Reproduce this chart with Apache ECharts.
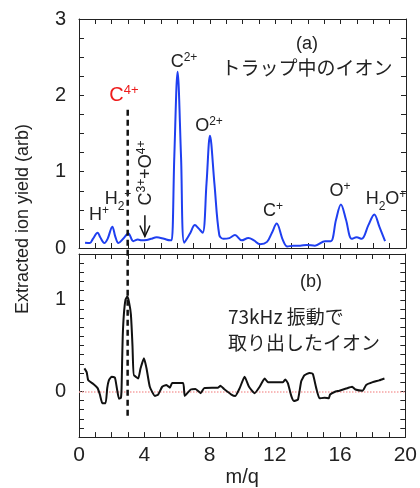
<!DOCTYPE html>
<html><head><meta charset="utf-8">
<script src="https://cdn.jsdelivr.net/npm/echarts@6/dist/echarts.min.js"></script>
<style>html,body{margin:0;padding:0;background:#fff}#c{width:420px;height:488px}</style>
</head><body><div id="c"></div>
<script>
// ---- data (m/q, yield) ----
const trapX = [0.37,0.67,0.85,1.14,1.3,1.55,1.75,2.04,2.22,2.41,2.7,3.02,3.32,3.6,3.83,4.14,4.4,4.75,5.2,5.57,5.67,5.83,6.03,6.24,6.44,6.79,7.09,7.3,7.56,7.8,8.01,8.28,8.58,8.83,9.2,9.54,9.95,10.36,10.7,11.07,11.5,11.8,12.09,12.46,12.74,13.1,13.52,13.93,14.43,15.05,15.4,15.72,16.02,16.33,16.68,16.98,17.29,17.7,18.06,18.37,18.72];
const trapY = [0.07,0.065,0.12,0.2,0.14,0.065,0.12,0.28,0.15,0.065,0.12,0.19,0.09,0.11,0.1,0.105,0.12,0.14,0.12,0.1,0.1,1.2,2.31,1.2,0.07,0.19,0.3,0.26,0.2,0.85,1.47,0.85,0.17,0.12,0.13,0.17,0.1,0.13,0.1,0.05,0.08,0.2,0.32,0.11,0.02,0.03,0.03,0.04,0.03,0.09,0.09,0.37,0.57,0.37,0.12,0.14,0.12,0.3,0.44,0.28,0.09];
const extX = [0.33,0.47,0.57,0.88,1.14,1.28,1.43,1.63,1.73,1.83,2.0,2.2,2.32,2.45,2.57,2.61,2.64,2.68,2.75,2.85,2.96,3.06,3.18,3.28,3.34,3.38,3.63,3.77,3.98,4.14,4.34,4.65,4.85,5.1,5.36,5.57,5.71,6.38,6.48,6.85,7.14,7.46,7.67,8.52,8.67,8.89,9.34,9.58,9.85,10.15,10.42,10.76,11.07,11.38,11.58,12.5,12.64,12.8,13.01,13.17,13.42,13.62,13.82,14.13,14.33,14.54,14.74,15.05,15.31,15.39,15.66,15.96,16.37,16.74,16.94,17.39,17.6,18.0,18.4,18.72];
const extY = [0.25,0.21,0.12,0.08,0.035,-0.035,-0.13,-0.13,0.035,0.12,0.16,0.15,0.035,-0.08,-0.07,0.035,0.3,0.6,0.84,1.0,1.035,0.98,0.84,0.49,0.18,0.18,0.14,0.25,0.36,0.25,0.05,-0.05,-0.035,0.05,0.07,0.04,0.09,0.09,-0.05,0.02,0.025,-0.02,0.035,0.04,0.06,0.025,-0.035,-0.05,0.035,0.16,0.05,-0.02,0.05,0.14,0.1,0.1,0.13,0.09,-0.05,-0.105,-0.09,0.11,0.175,0.2,0.19,0.035,-0.077,-0.07,-0.077,-0.035,-0.007,0.007,0.03,0.05,0.02,0.007,0.07,0.1,0.12,0.14];
const xTicks = [0,4,8,12,16,20];
const c4Pos = 2.98;          // m/q of the C4+ marker
const c4Range = [1.81,-0.29]; // top (panel a) / bottom (panel b) values of the dashed marker
const arrowPos = 4.03;
const arrowRange = [0.43,0.15];

const F = '"Liberation Sans","Noto Sans CJK JP",sans-serif';
const J = '"Noto Sans CJK JP",sans-serif';
const trap = trapX.map((x,i)=>[x,trapY[i]]);
const ext = extX.map((x,i)=>[x,extY[i]]);

const chart = echarts.init(document.getElementById('c'));
const tick = {show:true, inside:true, length:5, lineStyle:{color:'#222'}};
const minor = n => ({show:true, splitNumber:n, length:5, lineStyle:{color:'#222'}});
const line = {show:true, onZero:false, lineStyle:{color:'#222', width:1}};
function xa(grid, pos, labels){
  return {type:'value', gridIndex:grid, position:pos, min:0, max:20, interval:4,
    axisLine:line, axisTick:tick, minorTick:minor(4), splitLine:{show:false},
    axisLabel:{show:labels, fontSize:21, color:'#222', fontFamily:F, margin:8},
    name: labels ? 'm/q' : '', nameLocation:'middle', nameGap:26,
    nameTextStyle:{fontSize:20, color:'#222', fontFamily:F}};
}
const opt = {
  animation:false,
  grid:[{left:79, top:19, width:327, height:229},{left:79, top:254, width:327, height:190}],
  xAxis:[xa(0,'bottom',false), xa(0,'top',false), xa(1,'bottom',true), xa(1,'top',false)],
  yAxis:[
    {type:'value', gridIndex:0, position:'left', min:0, max:3, interval:1, axisLine:line, axisTick:tick, minorTick:minor(4), splitLine:{show:false},
     axisLabel:{fontSize:20, color:'#222', fontFamily:F, margin:13}},
    {type:'value', gridIndex:0, position:'right', min:0, max:3, interval:1, axisLine:line, axisTick:tick, minorTick:minor(4), splitLine:{show:false}, axisLabel:{show:false}},
    {type:'value', gridIndex:1, position:'left', min:-0.5, max:1.5, interval:0.5, axisLine:line, axisTick:tick, minorTick:minor(5), splitLine:{show:false},
     axisLabel:{fontSize:20, color:'#222', fontFamily:F, margin:13, formatter:v => (v===0||v===1) ? String(v) : ''}},
    {type:'value', gridIndex:1, position:'right', min:-0.5, max:1.5, interval:0.5, axisLine:line, axisTick:tick, minorTick:minor(5), splitLine:{show:false}, axisLabel:{show:false}}
  ],
  series:[
    {type:'line', xAxisIndex:0, yAxisIndex:0, data:trap, showSymbol:false, smooth:0.35,
     lineStyle:{color:'#1f3ff0', width:2}, z:3},
    {type:'line', xAxisIndex:2, yAxisIndex:2, data:ext, showSymbol:false, smooth:0.15,
     lineStyle:{color:'#111', width:2}, z:3,
     markLine:{silent:true, symbol:'none', label:{show:false}, z:1,
       lineStyle:{color:'#f6a4a4', type:'dotted', width:1.5}, data:[{yAxis:0}]}}
  ]
};
chart.setOption(opt);

const p1 = chart.convertToPixel({gridIndex:0}, [c4Pos, c4Range[0]]);
const p2 = chart.convertToPixel({gridIndex:1}, [c4Pos, c4Range[1]]);
const a1 = chart.convertToPixel({gridIndex:0}, [arrowPos, arrowRange[0]]);
const a2 = chart.convertToPixel({gridIndex:0}, [arrowPos, arrowRange[1]]);

const sup = {fontSize:12, verticalAlign:'top', lineHeight:12, fontFamily:F, fill:'#222'};
const sub = {fontSize:12, verticalAlign:'bottom', lineHeight:10, fontFamily:F, fill:'#222', padding:[0,0,-4,0]};
const m = {fontSize:18, lineHeight:20, fontFamily:F, fill:'#222'};
function lab(x,y,text){
  return {type:'text', x:x, y:y, z:10,
    style:{text:text, textAlign:'center', textVerticalAlign:'middle', rich:{m:m, s:sup, b:sub}, fill:'#222'}};
}
chart.setOption({graphic:[
  {type:'line', z:5, shape:{x1:p1[0], y1:p1[1], x2:p2[0], y2:p2[1]},
   style:{stroke:'#111', lineWidth:2.5, lineDash:[6,4]}},
  {type:'line', z:5, shape:{x1:a1[0], y1:a1[1], x2:a2[0], y2:a2[1]}, style:{stroke:'#111', lineWidth:1.5}},
  {type:'polyline', z:5, shape:{points:[[a2[0]-5,a2[1]-11],[a2[0],a2[1]],[a2[0]+5,a2[1]-11]]}, style:{stroke:'#111', lineWidth:1.5, fill:null}},
  lab(184,62,'{m|C}{s|2+}'),
  lab(209,126,'{m|O}{s|2+}'),
  lab(273,211,'{m|C}{s|+}'),
  lab(340,191,'{m|O}{s|+}'),
  lab(386,199,'{m|H}{b|2}{m|O}{s|+}'),
  lab(99,215,'{m|H}{s|+}'),
  lab(118,199,'{m|H}{b|2}{s|+}'),
  {type:'text', x:146, y:173, rotation:Math.PI/2, z:10,
   style:{text:'{m|C}{s|3+}{m|+O}{s|4+}', textAlign:'center', textVerticalAlign:'middle', rich:{m:m, s:sup}}},
  {type:'text', x:124, y:95, z:10, style:{text:'{r|C}{q|4+}', textAlign:'center', textVerticalAlign:'middle',
   rich:{r:{fontSize:20, lineHeight:22, fill:'#ee1c1c', fontFamily:F}, q:{fontSize:13, lineHeight:13, verticalAlign:'top', fill:'#ee1c1c', fontFamily:F}}}},
  {type:'text', x:307, y:44, z:10, style:{text:'(a)', font:'18px '+F, fill:'#222', textAlign:'center', textVerticalAlign:'middle'}},
  {type:'text', x:307, y:68, z:10, style:{text:'トラップ中のイオン', font:'19px '+J, fill:'#222', textAlign:'center', textVerticalAlign:'middle'}},
  {type:'text', x:311, y:282, z:10, style:{text:'(b)', font:'18px '+F, fill:'#222', textAlign:'center', textVerticalAlign:'middle'}},
  {type:'text', x:228, y:317, z:10, style:{text:'73kHz 振動で', font:'19px '+J, fill:'#222', textAlign:'left', textVerticalAlign:'middle'}},
  {type:'text', x:228, y:343, z:10, style:{text:'取り出したイオン', font:'19px '+J, fill:'#222', textAlign:'left', textVerticalAlign:'middle'}},
  {type:'text', x:23, y:219, rotation:Math.PI/2, z:10, style:{text:'Extracted ion yield (arb)', font:'18px '+F, fill:'#222', textAlign:'center', textVerticalAlign:'middle'}}
]});
</script>
</body></html>
